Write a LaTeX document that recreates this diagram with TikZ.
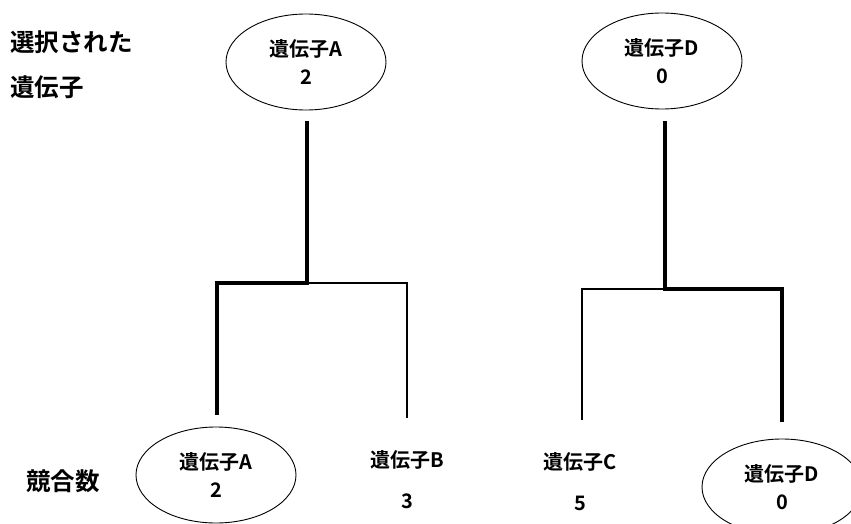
\documentclass[tikz,border=0pt]{standalone}
\usepackage{fontspec}
\setmainfont{Noto Sans CJK JP}[BoldFont={Noto Sans CJK JP Bold}]
\usetikzlibrary{shapes.geometric}
\begin{document}
\begin{tikzpicture}[x=1pt,y=-1pt,
  gene/.style={draw=black,line width=0.9pt,ellipse,minimum width=160pt,minimum height=96pt,inner sep=0pt,align=center,font=\bfseries\fontsize{20}{28}\selectfont},
  plain/.style={inner sep=0pt,align=center,font=\bfseries\fontsize{20}{41}\selectfont},
  side/.style={inner sep=0pt,anchor=west,font=\bfseries\fontsize{24.5}{28}\selectfont},
  win/.style={line width=4pt},
  lose/.style={line width=1.2pt}]
\useasboundingbox (0,0) rectangle (851,524);
\begin{scope}
\clip (0,0) rectangle (851,524);
% titles
\node[side] (sel1) at (10,42) {選択された};
\node[side] (sel2) at (10,87) {遺伝子};
\node[side] (cnt) at (26,481) {競合数};
% top winners
\node[gene] (topA) at (306,62) {遺伝子A\\2};
\node[gene] (topD) at (662,61) {遺伝子D\\0};
% bottom
\node[gene] (botA) at (216,475) {遺伝子A\\2};
\node[gene] (botD) at (782,487) {遺伝子D\\0};
\node[plain] (botB) at (407,480) {遺伝子B\\3};
\node[plain] (botC) at (580,482) {遺伝子C\\5};
% junctions
\coordinate (jL) at (307,283);
\coordinate (jR) at (665,289);
\coordinate (eA) at (217,413);
\coordinate (eB) at (407,418);
\coordinate (eC) at (582,420);
\coordinate (eD) at (782,420);
% left bracket
\draw[lose] (jL) -- (407,283) -- (eB);
\draw[win,line cap=rect] (307,123) -- (jL) -| (eA);
% right bracket
\draw[lose] (jR) -- (582,289) -- (eC);
\draw[win,line cap=rect] (665,123) -- (jR) -| (eD);
\end{scope}
\end{tikzpicture}
\end{document}
